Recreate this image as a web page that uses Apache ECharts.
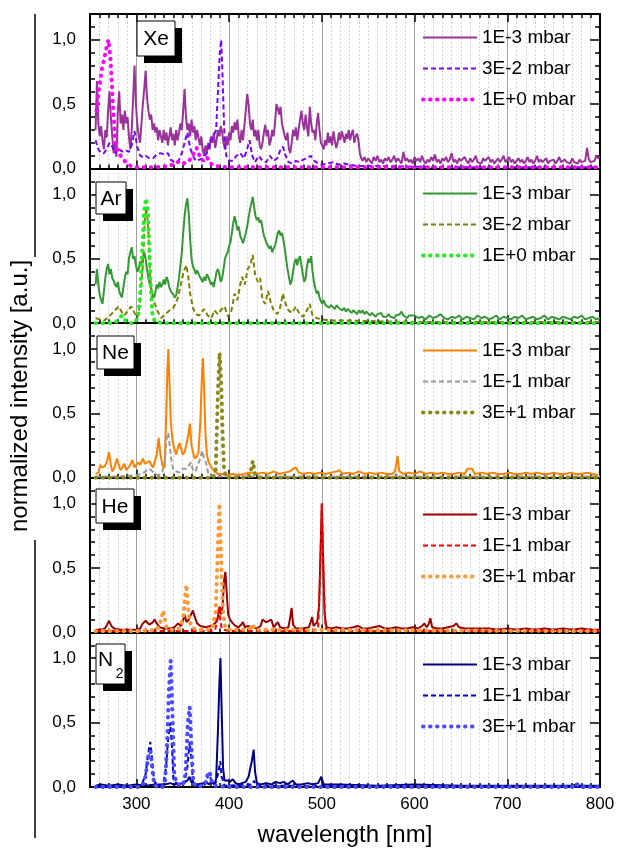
<!DOCTYPE html>
<html><head><meta charset="utf-8">
<script src="https://cdn.jsdelivr.net/npm/echarts@6/dist/echarts.min.js"></script>
<style>html,body{margin:0;padding:0;background:#fff}#c{width:624px;height:851px}</style>
</head><body><div id="c"></div>
<script>
// ---------- axis / tick data ----------
const wlMin = 250, wlMax = 800;
const majorWl = [300, 400, 500, 600, 700, 800];
const yMajor = [0, 0.5, 1.0];
const panelNames = ['Xe', 'Ar', 'Ne', 'He', 'N2'];
const legendXe = ['1E-3 mbar', '3E-2 mbar', '1E+0 mbar'];
const legendAr = ['1E-3 mbar', '3E-2 mbar', '1E+0 mbar'];
const legendNe = ['1E-3 mbar', '1E-1 mbar', '3E+1 mbar'];
const legendHe = ['1E-3 mbar', '1E-1 mbar', '3E+1 mbar'];
const legendN2 = ['1E-3 mbar', '1E-1 mbar', '3E+1 mbar'];

// ---------- series data ----------
// Xe 1E-3 mbar: values sampled every 1.5 nm from 256 nm, then every 2 nm from 544 nm
const xe1e3Main = [0.30,0.68,0.35,0.25,0.33,0.22,0.15,0.30,0.24,0.45,0.60,0.40,0.25,0.12,0.20,0.09,
0.45,0.60,0.35,0.42,0.30,0.45,0.35,0.40,0.25,0.15,0.30,0.55,0.80,0.50,0.35,0.25,0.20,0.35,0.50,0.62,0.76,0.55,0.45,0.38,0.42,0.30,0.35,0.28,0.32,0.22,0.30,0.25,0.20,0.30,0.22,0.28,0.18,0.25,0.32,0.22,0.27,0.18,0.30,0.22,0.28,0.35,0.30,0.45,0.62,0.40,0.30,0.35,0.25,0.38,0.28,0.33,0.22,0.30,0.24,0.18,0.25,0.15,0.10,0.18,0.12,0.20,0.15,0.25,0.20,0.28,0.16,0.22,0.30,0.25,0.33,0.28,0.20,0.15,0.25,0.18,0.28,0.22,0.33,0.28,0.36,0.30,0.38,0.25,0.20,0.30,0.22,0.33,0.45,0.58,0.50,0.35,0.30,0.38,0.25,0.30,0.22,0.30,0.18,0.15,0.20,0.28,0.34,0.25,0.30,0.18,0.22,0.30,0.25,0.35,0.50,0.47,0.42,0.48,0.35,0.30,0.25,0.22,0.28,0.15,0.12,0.20,0.30,0.25,0.32,0.22,0.30,0.38,0.45,0.35,0.30,0.42,0.32,0.25,0.48,0.35,0.28,0.30,0.22,0.35,0.43,0.30,0.20,0.18,0.15,0.22,0.18,0.28,0.20,0.25,0.18,0.29,0.22,0.16,0.20,0.28,0.22,0.29,0.25,0.20,0.27,0.23,0.30,0.22,0.27,0.30,0.20,0.25,0.27,0.22,0.12,0.08];
const xe1e3Tail = [0.06,0.09,0.05,0.08,0.07,0.04,0.09,0.06,0.10,0.05,
0.07,0.04,0.08,0.06,0.09,0.05,0.07,0.10,0.05,0.08,
0.06,0.04,0.13,0.06,0.08,0.05,0.07,0.04,0.09,0.06,
0.08,0.05,0.10,0.06,0.04,0.07,0.05,0.09,0.06,0.11,
0.05,0.07,0.04,0.08,0.06,0.09,0.05,0.07,0.12,0.05,
0.07,0.04,0.08,0.06,0.05,0.09,0.06,0.04,0.08,0.05,
0.07,0.10,0.05,0.06,0.04,0.08,0.06,0.05,0.09,0.05,
0.07,0.04,0.06,0.08,0.05,0.07,0.10,0.05,0.06,0.09,
0.05,0.07,0.04,0.06,0.08,0.05,0.07,0.04,0.06,0.09,
0.05,0.07,0.04,0.06,0.10,0.05,0.07,0.05,0.06,0.08,
0.04,0.06,0.05,0.07,0.04,0.06,0.09,0.05,0.04,0.07,
0.05,0.06,0.04,0.08,0.05,0.06,0.04,0.07,0.05,0.04,
0.06,0.16,0.07,0.05,0.04,0.06,0.10,0.08,0.09];
const xe3e2 = [[256,0.22],[259,0.15],[262,0.12],[265,0.12],[268,0.15],[271,0.2],[274,0.17],[277,0.12],[280,0.16],[283,0.14],[286,0.13],[289,0.14],[292,0.13],[295,0.18],[298,0.29],[301,0.17],[304,0.1],[307,0.09],[310,0.1],[314,0.08],[318,0.08],[322,0.11],[326,0.12],[330,0.11],[334,0.12],[337,0.07],[341,0.05],[345,0.05],[349,0.12],[352,0.2],[355,0.28],[358,0.16],[361,0.1],[364,0.06],[368,0.07],[372,0.08],[376,0.12],[380,0.22],[383,0.25],[386,0.3],[388,0.6],[390,0.9],[391.5,1.0],[393,0.7],[395,0.24],[397,0.1],[400,0.06],[404,0.06],[408,0.1],[412,0.12],[416,0.08],[419,0.14],[422,0.22],[425,0.1],[428,0.05],[432,0.1],[436,0.06],[440,0.05],[444,0.1],[448,0.06],[452,0.08],[455,0.14],[458,0.17],[461,0.1],[464,0.05],[468,0.04],[472,0.06],[476,0.05],[480,0.07],[484,0.08],[488,0.1],[492,0.06],[496,0.04],[500,0.03],[506,0.04],[512,0.05],[518,0.03],[524,0.04],[530,0.03],[540,0.02],[560,0.02],[600,0.015],[650,0.01],[700,0.01],[750,0.01],[800,0.01]];
const xe1e0 = [[257,0.45],[259,0.58],[261,0.68],[263,0.78],[265.5,0.86],[268,0.95],[270,1.0],[272,0.86],[274,0.6],[275.5,0.4],[277,0.25],[279,0.15],[282,0.11],[286,0.07],[290,0.04],[294,0.02],[300,0.01],[320,0.01],[335,0.02],[342,0.04],[347,0.06],[352,0.04],[357,0.06],[362,0.12],[365,0.16],[368,0.1],[372,0.06],[376,0.09],[380,0.04],[385,0.02],[400,0.01],[800,0.01]];

// Ar
const ar1e3Main = [[256,0.3],[257.5,0.42],[259,0.3],[260.5,0.22],[262,0.18],[263.5,0.15],[265,0.25],[266.5,0.35],[268,0.42],[269.5,0.46],[271,0.38],[272.5,0.42],[274,0.35],[275.5,0.33],[277,0.3],[278.5,0.28],[280,0.32],[281.5,0.25],[283,0.22],[284.5,0.2],[286,0.28],[287.5,0.35],[289,0.4],[290.5,0.38],[292,0.5],[293.5,0.55],[295,0.59],[296.5,0.5],[298,0.52],[299.5,0.45],[301,0.4],[302.5,0.42],[304,0.48],[305.5,0.45],[307,0.5],[308.5,0.55],[310,0.5],[311.5,0.42],[313,0.35],[314.5,0.3],[316,0.27],[317.5,0.22],[319,0.2],[320.5,0.24],[322,0.3],[323.5,0.27],[325,0.32],[326.5,0.28],[328,0.3],[329.5,0.34],[331,0.3],[332.5,0.36],[334,0.33],[335.5,0.28],[337,0.25],[338.5,0.26],[340,0.22],[341.5,0.2],[343,0.22],[344.5,0.28],[346,0.35],[347.5,0.45],[349,0.55],[350.5,0.7],[352,0.83],[353.5,0.92],[355,0.97],[356.5,0.85],[358,0.65],[359.5,0.5],[361,0.44],[362.5,0.42],[364,0.38],[365.5,0.41],[367,0.4],[368.5,0.36],[370,0.35],[371.5,0.32],[373,0.36],[374.5,0.33],[376,0.38],[377.5,0.36],[379,0.33],[380.5,0.3],[382,0.32],[383.5,0.28],[385,0.34],[386.5,0.4],[388,0.42],[389.5,0.38],[391,0.32],[392.5,0.35],[394,0.42],[395.5,0.5],[397,0.53],[398.5,0.55],[400,0.6],[401.5,0.63],[403,0.7],[404.5,0.78],[406,0.83],[407.5,0.78],[409,0.72],[410.5,0.75],[412,0.68],[413.5,0.65],[415,0.62],[416.5,0.66],[418,0.7],[419.5,0.75],[421,0.82],[422.5,0.88],[424,0.93],[425.5,0.98],[427,0.9],[428.5,0.83],[430,0.8],[431.5,0.82],[433,0.78],[434.5,0.8],[436,0.74],[437.5,0.68],[439,0.65],[440.5,0.62],[442,0.6],[443.5,0.58],[445,0.6],[446.5,0.55],[448,0.58],[449.5,0.6],[451,0.65],[452.5,0.7],[454,0.72],[455.5,0.68],[457,0.7],[458.5,0.65],[460,0.58],[461.5,0.5],[463,0.42],[464.5,0.36],[466,0.3],[467.5,0.33],[469,0.4],[470.5,0.47],[472,0.5],[473.5,0.45],[475,0.5],[476.5,0.52],[478,0.45],[479.5,0.38],[481,0.32],[482.5,0.35],[484,0.44],[485.5,0.5],[487,0.47],[488.5,0.52],[490,0.4],[491.5,0.32],[493,0.27],[494.5,0.23],[496,0.25],[497.5,0.2],[499,0.17],[500.5,0.15],[502,0.18],[504,0.14],[506,0.15],[508,0.12],[510,0.14],[512,0.13],[514,0.11],[516,0.14],[518,0.12],[520,0.13],[522,0.1],[524,0.12],[526,0.09],[528,0.11],[530,0.1],[532,0.08],[534,0.1],[536,0.09],[538,0.07],[540,0.1],[542,0.08],[544,0.1],[546,0.07],[548,0.09],[550,0.08],[552,0.06],[554,0.08],[556,0.07],[558,0.05],[560,0.07],[562,0.06],[564,0.08],[566,0.05],[568,0.06],[570,0.05],[572,0.07],[574,0.05],[576,0.06],[578,0.04],[580,0.06],[582,0.05],[584,0.07],[586,0.09],[588,0.06],[590,0.05],[592,0.04],[594,0.06],[596,0.05]];
// Ar 1E-3 tail: every 4 nm from 600 nm
const ar1e3Tail = [0.06,0.04,0.05,0.03,0.06,0.04,0.05,0.07,0.04,0.03,
0.05,0.04,0.06,0.03,0.05,0.04,0.03,0.06,0.04,0.05,
0.03,0.04,0.06,0.03,0.05,0.04,0.03,0.05,0.04,0.06,
0.03,0.04,0.05,0.03,0.04,0.06,0.03,0.05,0.04,0.03,
0.05,0.04,0.03,0.05,0.04,0.06,0.03,0.04,0.05,0.03,0.04];
const ar3e2 = [[256,0.04],[260,0.03],[265,0.02],[269,0.04],[273,0.07],[277,0.1],[281,0.13],[284,0.09],[287,0.06],[291,0.1],[294.5,0.13],[298,0.08],[301,0.04],[304,0.15],[307,0.45],[309,0.8],[311,0.9],[313,0.7],[315,0.35],[317,0.18],[320,0.15],[323,0.09],[327,0.04],[331,0.07],[336,0.1],[340,0.12],[344,0.18],[348,0.3],[351,0.4],[354,0.45],[356,0.36],[358,0.23],[361,0.12],[364,0.07],[368,0.06],[373,0.11],[377,0.06],[381,0.04],[384,0.1],[388,0.07],[391,0.1],[395,0.13],[399,0.05],[402,0.08],[406,0.23],[409,0.18],[412,0.3],[414,0.36],[417,0.3],[420,0.42],[423,0.45],[425.5,0.53],[428,0.38],[431,0.32],[433.5,0.35],[436,0.18],[439,0.15],[442,0.25],[445,0.16],[448,0.1],[452,0.07],[455,0.12],[458,0.23],[461,0.15],[464,0.1],[468,0.08],[472,0.13],[476,0.07],[480,0.05],[484,0.1],[487,0.15],[490,0.06],[494,0.04],[500,0.03],[510,0.02],[530,0.02],[560,0.015],[600,0.01],[700,0.01],[800,0.01]];
const ar1e0 = [[256,0.0],[270,0.0],[278,0.01],[282,0.04],[284.5,0.06],[287,0.03],[291,0.0],[298,0.0],[302,0.05],[304.5,0.27],[306.5,0.6],[308.5,0.88],[310.5,0.97],[312.5,0.86],[314,0.58],[315.5,0.27],[317.5,0.06],[320,0.01],[330,0],[800,0]];

// Ne
const ne1e3 = [[256,0.03],[259,0.04],[261,0.1],[263,0.08],[266,0.09],[268,0.12],[270.5,0.2],[272.5,0.1],[274,0.05],[276,0.07],[279,0.15],[281,0.1],[283,0.06],[285,0.08],[287,0.11],[289,0.06],[291,0.05],[293.5,0.1],[295.7,0.14],[298,0.08],[300,0.1],[302,0.12],[304,0.1],[307,0.15],[309,0.11],[311,0.1],[314,0.13],[316,0.1],[318,0.08],[320,0.09],[322,0.18],[324,0.31],[326,0.18],[328,0.1],[330.5,0.08],[332,0.44],[333.5,0.85],[334.5,1.0],[335.7,0.75],[337,0.45],[338.8,0.3],[341,0.22],[343,0.18],[345,0.24],[346.7,0.27],[348.5,0.22],[350,0.18],[352,0.2],[354,0.26],[356,0.33],[357.7,0.42],[359.5,0.25],[361,0.2],[362.8,0.15],[365,0.16],[367,0.2],[369,0.44],[370.5,0.75],[371.8,0.93],[373,0.7],[374.5,0.35],[376,0.18],[378,0.12],[381,0.08],[384,0.05],[388,0.03],[393,0.03],[398,0.02],[404,0.03],[410,0.02],[416,0.03],[421,0.04],[426,0.04],[430,0.03],[436,0.04],[442,0.03],[448,0.05],[454,0.03],[460,0.04],[466,0.05],[469,0.07],[472,0.08],[475,0.04],[480,0.03],[486,0.04],[492,0.03],[498,0.04],[504,0.03],[510,0.04],[516,0.05],[519,0.06],[522,0.03],[528,0.04],[534,0.03],[540,0.05],[546,0.03],[552,0.04],[558,0.03],[564,0.04],[570,0.03],[576,0.03],[579,0.05],[581.6,0.17],[583.5,0.05],[588,0.03],[594,0.04],[600,0.03],[606,0.05],[612,0.03],[618,0.04],[624,0.03],[630,0.04],[636,0.03],[642,0.03],[648,0.04],[654,0.03],[657,0.07],[662,0.07],[665,0.03],[672,0.04],[678,0.03],[684,0.04],[690,0.03],[696,0.03],[702,0.04],[708,0.03],[714,0.03],[720,0.04],[726,0.03],[732,0.04],[738,0.03],[744,0.03],[750,0.04],[756,0.03],[762,0.03],[768,0.04],[774,0.03],[780,0.03],[786,0.04],[792,0.03],[798,0.02]];
const ne1e1 = [[256,0.01],[280,0.01],[300,0.02],[306,0.03],[310,0.05],[313,0.07],[316,0.06],[320,0.03],[324,0.02],[328,0.05],[330.5,0.12],[332.5,0.3],[334.5,0.35],[336,0.25],[338,0.12],[340,0.06],[343,0.05],[346,0.04],[350,0.07],[354,0.07],[357,0.1],[359,0.12],[361,0.06],[364,0.05],[366,0.1],[368,0.13],[371,0.21],[373,0.15],[375,0.12],[378,0.02],[385,0.01],[580,0.01],[581.6,0.03],[583,0.01],[800,0.01]];
const ne3e1 = [[256,0],[383,0],[385.5,0.05],[386.5,0.3],[388,0.68],[389.8,0.97],[391.5,0.73],[393,0.35],[394.5,0.07],[397,0],[420,0],[423,0.04],[425.6,0.13],[428,0.03],[431,0],[800,0]];

// He
const he1e3 = [[256,0.02],[262,0.02],[266,0.03],[268.5,0.06],[270.5,0.09],[273,0.05],[276,0.03],[282,0.02],[290,0.02],[300,0.02],[304,0.03],[307,0.07],[310,0.09],[312,0.1],[314,0.06],[316,0.05],[318,0.08],[319.7,0.1],[322,0.07],[325,0.04],[330,0.03],[337,0.03],[341,0.04],[345,0.07],[348,0.05],[350,0.08],[352,0.14],[354,0.08],[356.5,0.1],[359,0.14],[361,0.17],[363,0.12],[365.5,0.07],[369,0.05],[375,0.04],[380,0.05],[383,0.06],[386,0.08],[388,0.12],[389.8,0.2],[391.5,0.14],[393,0.2],[394.5,0.4],[396,0.47],[397.5,0.3],[399,0.14],[401,0.1],[404,0.07],[407,0.05],[410,0.04],[413,0.06],[415,0.08],[417,0.04],[420,0.05],[425,0.04],[430,0.03],[434,0.05],[436,0.1],[437.5,0.11],[440,0.08],[443,0.09],[445.5,0.1],[448,0.04],[452.6,0.08],[455,0.04],[460,0.03],[464,0.04],[466,0.12],[467.4,0.19],[469,0.06],[472,0.03],[480,0.03],[486,0.04],[488,0.08],[489.6,0.12],[491,0.05],[493,0.06],[495,0.08],[497,0.2],[498.5,0.6],[500,1.0],[501.5,0.55],[503,0.14],[505,0.04],[510,0.03],[516,0.04],[522,0.03],[528,0.03],[534,0.04],[539,0.05],[544,0.03],[550,0.03],[556,0.04],[562,0.05],[568,0.03],[574,0.03],[580,0.04],[586,0.03],[592,0.03],[598,0.04],[604,0.03],[608,0.05],[610.7,0.07],[613,0.04],[615,0.06],[617,0.11],[619,0.04],[624,0.03],[630,0.03],[636,0.04],[642,0.05],[645,0.07],[648,0.04],[654,0.03],[660,0.03],[670,0.03],[680,0.03],[690,0.02],[700,0.03],[710,0.02],[720,0.03],[730,0.02],[740,0.03],[750,0.02],[760,0.03],[770,0.02],[780,0.03],[790,0.02],[800,0.02]];
const he1e1 = [[256,0.01],[380,0.01],[385,0.02],[387.5,0.1],[389,0.2],[390.5,0.1],[392,0.03],[395,0.02],[400,0.01],[490,0.01],[496,0.03],[498,0.4],[500,1.0],[502,0.4],[504,0.03],[510,0.01],[800,0.01]];
const he3e1 = [[256,0.01],[300,0.01],[322,0.02],[325,0.06],[327,0.11],[329,0.17],[331,0.09],[333,0.03],[338,0.02],[346,0.03],[349,0.08],[351,0.14],[352.5,0.27],[354,0.37],[355.5,0.23],[357,0.09],[360,0.04],[365,0.02],[375,0.02],[382,0.03],[385.5,0.16],[387.6,0.6],[389.5,1.0],[391.5,0.57],[393.5,0.16],[396,0.03],[402,0.02],[420,0.02],[424,0.04],[425.6,0.06],[428,0.02],[470,0.02],[800,0.01]];

// N2
const n21e3 = [[256,0.01],[262,0.02],[270,0.01],[280,0.02],[290,0.01],[300,0.02],[310,0.01],[320,0.02],[330,0.02],[337,0.03],[340,0.02],[350,0.03],[355,0.05],[357.4,0.08],[359,0.04],[365,0.02],[372,0.03],[375.5,0.04],[378,0.02],[381,0.04],[384,0.02],[386,0.06],[388,0.44],[389.5,0.8],[390.7,1.0],[392,0.6],[393.5,0.15],[395,0.05],[398.7,0.05],[401,0.04],[404,0.06],[407,0.03],[410,0.02],[414,0.03],[418,0.04],[421,0.08],[423,0.15],[424.5,0.2],[426.5,0.29],[428,0.12],[430,0.03],[434,0.02],[440,0.03],[446,0.02],[450,0.04],[455,0.03],[459,0.04],[463,0.02],[468.8,0.05],[472,0.02],[478,0.02],[485,0.03],[490,0.02],[496,0.03],[499.4,0.08],[502,0.02],[520,0.02],[560,0.01],[600,0.02],[650,0.01],[700,0.01],[770,0.01],[774,0.02],[778,0.01],[800,0.01]];
const n21e1 = [[256,0.0],[300,0.0],[306,0.02],[310,0.1],[312.5,0.25],[315,0.35],[317,0.22],[319,0.05],[323,0.01],[329,0.02],[332,0.15],[334,0.35],[336.5,0.5],[338.5,0.3],[340,0.05],[345,0.02],[352,0.03],[355,0.15],[357.5,0.35],[359.5,0.2],[361,0.04],[366,0.01],[374,0.02],[377,0.08],[379,0.1],[381,0.04],[385,0.02],[388,0.1],[390.5,0.2],[392,0.08],[395,0.01],[425,0.02],[427,0.05],[429,0.01],[800,0.0]];
const n23e1 = [[256,0],[305,0],[309,0.05],[311,0.14],[313,0.24],[315,0.28],[317,0.15],[319,0.03],[322,0],[328,0.0],[331,0.05],[333,0.3],[335,0.75],[337,0.98],[339,0.55],[341,0.08],[345,0.02],[350,0.01],[353,0.1],[355.5,0.5],[357.5,0.62],[359.5,0.3],[361.5,0.03],[366,0],[374,0.02],[377,0.1],[379,0.12],[381,0.05],[384,0.01],[400,0],[770,0],[774.4,0.03],[778,0],[800,0]];

// sampling grids -> [wavelength, value] pairs
function onGrid(start, step, vals) { return vals.map((v, i) => [start + i * step, v]); }

const panelSeries = [
  [onGrid(256, 1.5, xe1e3Main).concat(onGrid(544, 2, xe1e3Tail)), xe3e2, xe1e0],
  [ar1e3Main.concat(onGrid(600, 4, ar1e3Tail)), ar3e2, ar1e0],
  [ne1e3, ne1e1, ne3e1],
  [he1e3, he1e1, he3e1],
  [n21e3, n21e1, n23e1]
];
const panelLegends = [legendXe, legendAr, legendNe, legendHe, legendN2];

// ---------- styles ----------
const FONT = "'Liberation Sans', Arial, sans-serif";
const colors = [
  ['#993399', '#8000ff', '#ff00ff'],
  ['#339933', '#808000', '#22ee22'],
  ['#ff8000', '#999999', '#8a8a1a'],
  ['#990000', '#ff0000', '#ff9933'],
  ['#000080', '#0000cc', '#4b4bff']
];
const lineStyles = [
  { type: 'solid', width: 2 },
  { type: [5, 3], width: 2 },
  { type: [0.5, 6.5], width: 4, cap: 'round' }
];
const gridLeft = 90, gridRight = 24, gridTop0 = 14, panelH = 154.6;
const legendTops = [28, 184, 341, 505, 655];
const labelBoxes = [
  { x: 137, y: 21, w: 38, h: 35 },
  { x: 96, y: 182, w: 30, h: 32 },
  { x: 97, y: 336, w: 37, h: 33 },
  { x: 96, y: 489, w: 38, h: 34 },
  { x: 96, y: 644, w: 29, h: 40 }
];

const grids = [], xAxes = [], yAxes = [], series = [], legends = [], graphics = [];
for (let i = 0; i < 5; i++) {
  const top = gridTop0 + i * panelH;
  grids.push({ left: gridLeft, right: gridRight, top: top, height: panelH });
  const xMinorIdx = xAxes.length;
  xAxes.push({
    gridIndex: i, type: 'value', min: wlMin, max: wlMax, interval: 10, position: 'bottom',
    axisLine: { show: true, onZero: false, lineStyle: { color: '#000', width: 2 } },
    axisTick: { show: true, inside: true, length: 4, lineStyle: { color: '#000', width: 1.5 } },
    axisLabel: { show: false },
    splitLine: { show: true, lineStyle: { color: '#d4d4d4', type: [2, 2], width: 1 } }
  });
  xAxes.push({
    gridIndex: i, type: 'value', min: wlMin, max: wlMax, position: 'bottom',
    axisLine: { show: false, onZero: false },
    axisTick: { show: true, inside: true, length: 8, customValues: majorWl, lineStyle: { color: '#000', width: 1.5 } },
    axisLabel: { show: i === 4, customValues: majorWl, fontSize: 17, fontFamily: FONT, color: '#000', margin: 9 },
    splitLine: { show: true, lineStyle: { color: '#a0a0a0', width: 1 } },
    name: i === 4 ? 'wavelength [nm]' : '', nameLocation: 'middle', nameGap: 36,
    nameTextStyle: { fontSize: 24, fontFamily: FONT, color: '#000' }
  });
  if (i === 0) {
    xAxes.push({
      gridIndex: i, type: 'value', min: wlMin, max: wlMax, interval: 10, position: 'top',
      axisLine: { show: true, onZero: false, lineStyle: { color: '#000', width: 2 } },
      axisTick: { show: true, inside: true, length: 4, lineStyle: { color: '#000', width: 1.5 } },
      axisLabel: { show: false }, splitLine: { show: false }
    });
    xAxes.push({
      gridIndex: i, type: 'value', min: wlMin, max: wlMax, position: 'top',
      axisLine: { show: false, onZero: false },
      axisTick: { show: true, inside: true, length: 8, customValues: majorWl, lineStyle: { color: '#000', width: 1.5 } },
      axisLabel: { show: false }, splitLine: { show: false }
    });
  }
  const yMinorIdx = yAxes.length;
  ['left', 'right'].forEach(pos => {
    yAxes.push({
      gridIndex: i, type: 'value', min: 0, max: 1.2, interval: 0.1, position: pos,
      axisLine: { show: true, onZero: false, lineStyle: { color: '#000', width: 2 } },
      axisTick: { show: true, inside: true, length: 5, lineStyle: { color: '#000', width: 1.5 } },
      axisLabel: { show: false }, splitLine: { show: false }
    });
    yAxes.push({
      gridIndex: i, type: 'value', min: 0, max: 1.2, position: pos,
      axisLine: { show: false, onZero: false },
      axisTick: { show: true, inside: true, length: 10, customValues: yMajor, lineStyle: { color: '#000', width: 1.5 } },
      axisLabel: { show: pos === 'left', customValues: yMajor, fontSize: 17, fontFamily: FONT, color: '#000', margin: 14,
        formatter: v => v.toFixed(1).replace('.', ',') },
      splitLine: { show: false }
    });
  });
  const names = [];
  for (let k = 0; k < 3; k++) {
    const nm = panelLegends[i][k] + '\u200b'.repeat(i + 1);
    names.push(nm);
    series.push({
      name: nm, type: 'line', xAxisIndex: xMinorIdx, yAxisIndex: yMinorIdx,
      data: panelSeries[i][k], symbol: 'none', showSymbol: false, smooth: false,
      lineStyle: Object.assign({ color: colors[i][k] }, lineStyles[k]),
      itemStyle: { color: colors[i][k] }, z: 3 + k, animation: false
    });
  }
  legends.push({
    data: names, orient: 'vertical', left: 421, top: legendTops[i], padding: 0,
    itemWidth: 54, itemHeight: 10, itemGap: 12, selectedMode: false,
    formatter: n => n.replace(/\u200b/g, ''),
    textStyle: { fontSize: 19, fontFamily: FONT, color: '#000' },
    itemStyle: { opacity: 0 }, lineStyle: { width: 'inherit' }
  });
  // panel label box with shadow
  const b = labelBoxes[i];
  graphics.push({ type: 'rect', z: 100, shape: { x: b.x + 7, y: b.y + 7, width: b.w, height: b.h }, style: { fill: '#000' } });
  graphics.push({ type: 'rect', z: 101, shape: { x: b.x, y: b.y, width: b.w, height: b.h }, style: { fill: '#fff', stroke: '#000', lineWidth: 1 } });
  if (panelNames[i] === 'N2') {
    graphics.push({ type: 'text', z: 102, x: b.x + 9.5, y: b.y + 16.5, style: { text: 'N', font: '21px ' + FONT, fill: '#000', align: 'center', verticalAlign: 'middle' } });
    graphics.push({ type: 'text', z: 102, x: b.x + 23.7, y: b.y + 30, style: { text: '2', font: '14px ' + FONT, fill: '#000', align: 'center', verticalAlign: 'middle' } });
  } else {
    graphics.push({ type: 'text', z: 102, x: b.x + b.w / 2, y: b.y + b.h / 2 + 1, style: { text: panelNames[i], font: '21px ' + FONT, fill: '#000', align: 'center', verticalAlign: 'middle' } });
  }
}
// y-axis title and its side lines
graphics.push({ type: 'text', z: 100, x: 20, y: 396, rotation: Math.PI / 2,
  style: { text: 'normalized intensity [a.u.]', font: '24px ' + FONT, fill: '#000', align: 'center', verticalAlign: 'middle' } });
graphics.push({ type: 'line', z: 100, shape: { x1: 35, y1: 14, x2: 35, y2: 257 }, style: { stroke: '#000', lineWidth: 1.5 } });
graphics.push({ type: 'line', z: 100, shape: { x1: 35, y1: 540, x2: 35, y2: 838 }, style: { stroke: '#000', lineWidth: 1.5 } });

const chart = echarts.init(document.getElementById('c'), null, { renderer: 'canvas' });
chart.setOption({
  animation: false,
  backgroundColor: '#fff',
  grid: grids, xAxis: xAxes, yAxis: yAxes, series: series, legend: legends, graphic: graphics
});
</script></body></html>
